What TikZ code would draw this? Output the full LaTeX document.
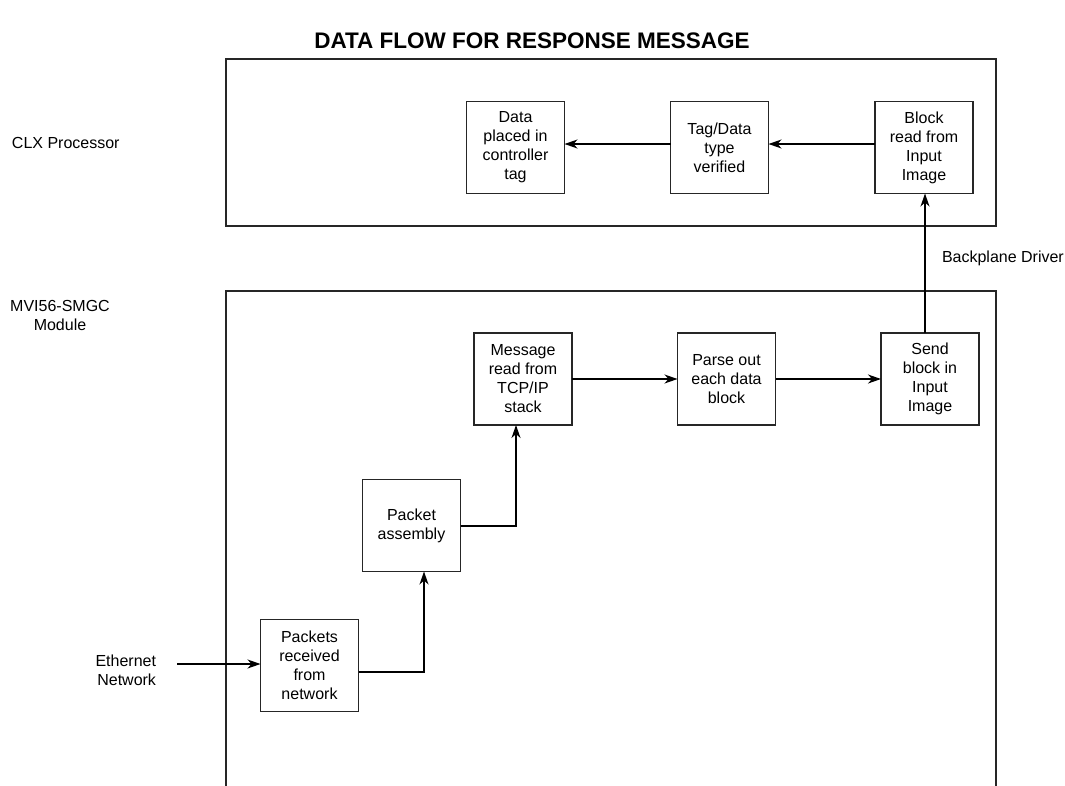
\documentclass[tikz,border=0pt]{standalone}
\usepackage{fontspec}
\setmainfont{Liberation Sans}
\usetikzlibrary{arrows.meta,calc}
\begin{document}
\begin{tikzpicture}[x=1pt,y=-1pt,
  every node/.style={inner sep=0pt,outer sep=0pt},
  blk/.style={draw=black!85,line width=1.1pt,minimum width=98pt,minimum height=92pt,align=center,font=\fontsize{16}{19}\selectfont},
  lbl/.style={align=center,font=\fontsize{16}{19}\selectfont},
  arr/.style={line width=1.3pt,-{Stealth[length=13pt,width=9pt,inset=4pt]}},
  frame/.style={draw=black!85,line width=1.1pt}]
\useasboundingbox (0,0) rectangle (1065,785);
% title
\node[font=\fontsize{22.5}{26}\bfseries\selectfont] (title) at (532,41) {DATA FLOW FOR RESPONSE MESSAGE};
% frames
\draw[frame] (226,59) rectangle (996,226);
\draw[frame] (226,786) -- (226,291) -- (996,291) -- (996,786);
% side labels
\node[lbl,anchor=west] (clx) at (12,143) {CLX Processor};
\node[lbl] (mvi) at (60,315) {MVI56-SMGC\\Module};
\node[lbl,align=right,anchor=east] (eth) at (156,670) {Ethernet\\Network};
\node[lbl,anchor=west] (bp) at (942,258) {Backplane Driver};
% blocks
\node[blk] (data) at (515.5,147.5) {Data\\placed in\\controller\\tag};
\node[blk] (tag) at (719.5,147.5) {Tag/Data\\type\\verified};
\node[blk] (block) at (924,147.5) {Block\\read from\\Input\\Image};
\node[blk] (msg) at (523,379) {Message\\read from\\TCP/IP\\stack};
\node[blk] (parse) at (726.5,379) {Parse out\\each data\\block};
\node[blk] (send) at (930,379) {Send\\block in\\Input\\Image};
\node[blk] (pack) at (411.5,525.5) {Packet\\assembly};
\node[blk] (recv) at (309.5,665.5) {Packets\\received\\from\\network};
\coordinate (ethin) at (177,664);
% connectors
\draw[arr] (block.west |- 0,144) -- (tag.east |- 0,144);
\draw[arr] (tag.west |- 0,144) -- (data.east |- 0,144);
\draw[arr] (send.north -| 925,0) -- (block.south -| 925,0);
\draw[arr] (msg.east) -- (parse.west);
\draw[arr] (parse.east) -- (send.west);
\draw[arr] (pack.east |- 0,526) -| (msg.south -| 516,0);
\draw[arr] (recv.east |- 0,672) -| (pack.south -| 424,0);
\draw[arr] (ethin) -- (recv.west |- ethin);
\end{tikzpicture}
\end{document}
